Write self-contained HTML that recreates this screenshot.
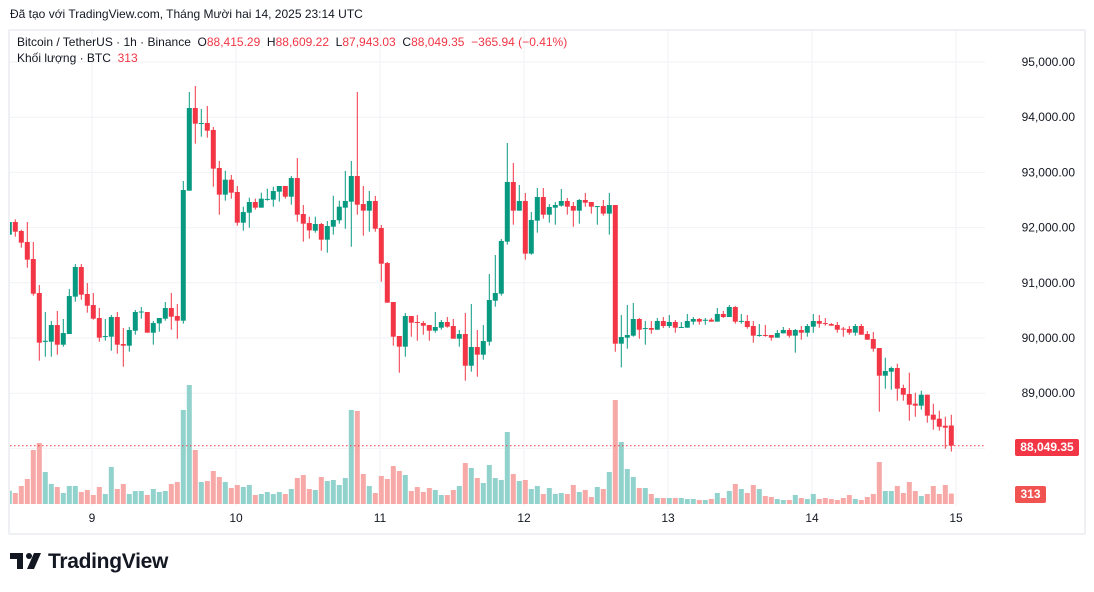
<!DOCTYPE html>
<html><head><meta charset="utf-8">
<style>
body{margin:0;width:1094px;height:592px;background:#fff;font-family:"Liberation Sans","DejaVu Sans",sans-serif;overflow:hidden;position:relative}
.t{position:absolute;white-space:nowrap}
</style></head><body>
<div class="t" style="left:10px;top:7px;font-size:12px;color:#131722">Đã tạo với TradingView.com, Tháng Mười hai 14, 2025 23:14 UTC</div>
<div style="position:absolute;left:8px;top:29px;width:1074px;height:502px;border:2px solid #eef0f4;border-radius:2px"></div>
<svg id="chart" width="1094" height="592" style="position:absolute;left:0;top:0"></svg>
<div class="t" style="left:17px;top:35px;font-size:12px;color:#131722">Bitcoin / TetherUS · 1h · Binance&nbsp; O<span style="color:#f23645">88,415.29</span>&nbsp; H<span style="color:#f23645">88,609.22</span>&nbsp; L<span style="color:#f23645">87,943.03</span>&nbsp; C<span style="color:#f23645">88,049.35</span>&nbsp; <span style="color:#f23645">−365.94 (−0.41%)</span></div>
<div class="t" style="left:17px;top:51px;font-size:12px;color:#131722">Khối lượng · BTC&nbsp; <span style="color:#f23645">313</span></div>
<div class="t" style="left:1015px;top:439px;width:64px;height:17px;background:#f23645;color:#fff;font-size:12px;font-weight:bold;line-height:17px;text-align:center;border-radius:2px">88,049.35</div>
<div class="t" style="left:1015px;top:486px;width:31px;height:17px;background:#f05350;color:#fff;font-size:12px;font-weight:bold;line-height:17px;text-align:center;border-radius:2px">313</div>
<div style="position:absolute;left:10px;top:550px;height:24px">
<svg width="36" height="24" style="position:absolute;left:0;top:0"><path d="M0 3h13v16H7V9H0z" fill="#131722"/><circle cx="19" cy="6" r="3" fill="#131722"/><path d="M24 3h7l-7 16h-7z" fill="#131722"/></svg>
<span class="t" style="left:38px;top:0;font-size:21px;font-weight:bold;color:#131722;letter-spacing:-0.3px">TradingView</span>
</div>
<script>
const opens=[91872,92101,91938,91739,91431,90815,89930,89933,90235,89879,90072,90749,91286,90797,90597,90362,90020,90024,90380,89891,89861,90132,90465,90471,90096,90265,90350,90543,90398,90314,92669,94167,93880,93895,93768,93080,92597,92868,92645,92089,92270,92464,92361,92510,92506,92651,92754,92560,92898,92246,92083,91944,92065,91781,92017,92132,92361,92470,92935,92427,92307,92482,91993,91358,90652,90036,89843,90398,90290,90271,90235,90132,90187,90290,90217,89987,90072,89498,89837,89698,89933,90676,90803,91745,92826,92307,92482,91528,92126,92554,92234,92361,92397,92482,92391,92307,92500,92464,92380,92391,92253,92409,89897,90006,90042,90344,90170,90181,90150,90308,90217,90290,90190,90187,90296,90344,90320,90332,90296,90435,90380,90561,90300,90308,90217,90045,90055,90054,90006,90084,90145,90042,90145,90096,90205,90308,90270,90253,90235,90170,90163,90096,90217,90072,89981,89818,89317,89390,89456,89094,88985,88810,88774,88973,88611,88538,88411,88415];
const highs=[92101,92150,91962,92101,91739,90960,90471,90308,90489,90344,90887,91340,91340,90996,90815,90543,90344,90416,90471,90181,90199,90507,90561,90471,90308,90362,90652,90815,90615,92844,94457,94565,94149,94203,93822,93206,93031,92953,92754,92379,92542,92524,92633,92705,92741,92754,92754,92935,93261,92409,92198,92198,92083,92120,92578,92488,93025,93206,94457,92754,92663,92572,92047,91377,90652,90036,90453,90398,90416,90308,90235,90471,90326,90380,90344,90145,90453,90616,90145,90235,91159,91503,91793,93533,93170,92772,92627,92283,92717,92717,92427,92464,92699,92536,92464,92518,92627,92464,92390,92500,92627,92409,90416,90597,90634,90362,90308,90308,90362,90380,90416,90326,90290,90435,90380,90362,90362,90362,90543,90489,90597,90579,90435,90416,90308,90253,90235,90054,90145,90199,90181,90163,90217,90253,90435,90416,90362,90271,90290,90199,90217,90253,90253,90126,90108,89818,89643,89480,89535,89154,89372,89009,89045,88973,88810,88683,88574,88609];
const lows=[91872,91835,91636,91274,90767,89589,89661,89661,89698,89843,90072,90658,90694,90459,90332,89933,89951,89770,89716,89480,89752,90060,90350,90096,89879,90114,90314,90150,89987,90260,92669,93521,93647,93629,92741,92234,92488,92524,92035,91944,92000,92325,92361,92488,92379,92470,92524,92415,92107,91745,91799,91908,91582,91546,91872,92071,91980,91654,92234,91854,91926,91926,91020,90640,89861,89371,89661,90024,89951,90060,89951,90096,90150,90187,89987,89843,89227,89390,89299,89607,89861,90567,90767,91691,92053,92307,91419,91510,91908,92162,92089,92053,92379,92234,92017,92071,92379,92253,92053,92216,91872,89752,89468,89806,90024,89987,89879,90078,90150,90181,90181,90096,90187,90187,90241,90241,90241,90296,90296,90362,90380,90260,90260,90169,89915,90024,90024,89951,90006,90084,90006,89734,89969,90024,90096,90187,90223,90223,90096,90024,90060,90042,90060,89969,89752,88665,89082,89064,88864,88864,88502,88574,88701,88466,88339,88321,87995,87943];
const closes=[92101,91926,91727,91419,90803,89915,89950,90235,89879,90090,90760,91286,90785,90585,90350,90006,90035,90380,89879,89861,90145,90471,90480,90096,90271,90362,90543,90386,90314,92681,94167,93883,93895,93756,93068,92597,92868,92633,92089,92282,92464,92361,92524,92520,92663,92754,92560,92898,92234,92071,91950,92065,91781,92029,92138,92379,92482,92935,92415,92307,92482,91980,91346,90640,90024,89843,90398,90277,90280,90223,90132,90199,90290,90205,89987,90072,89498,89837,89698,89945,90688,90815,91757,92826,92307,92482,91528,92138,92554,92234,92373,92409,92482,92379,92307,92500,92451,92379,92390,92253,92409,89897,90018,90054,90344,90150,90180,90150,90308,90217,90290,90187,90200,90308,90344,90296,90330,90296,90435,90380,90561,90296,90310,90199,90042,90055,90045,90006,90090,90145,90042,90145,90096,90217,90308,90259,90260,90223,90150,90160,90096,90217,90060,89969,89806,89317,89402,89456,89082,88973,88792,88774,88973,88593,88520,88393,88375,88049];
const volumes=[400,330,540,750,1620,1830,960,600,510,330,540,540,360,420,270,510,300,1110,450,600,300,390,390,270,450,360,390,600,660,2820,3570,1620,660,690,990,810,660,480,570,510,570,270,300,360,300,360,300,450,780,870,450,420,810,690,720,570,780,2820,2790,900,540,330,840,750,1140,990,870,390,510,360,480,420,270,270,420,540,1230,1080,780,630,1170,780,720,2160,900,690,720,450,540,300,480,300,330,300,570,360,420,210,510,450,960,3120,1860,1050,810,480,480,300,180,180,180,180,180,150,150,120,120,150,330,180,390,600,450,330,570,450,240,210,150,120,120,270,180,150,300,150,180,150,120,180,270,150,120,210,300,1260,390,390,540,330,660,390,240,300,540,300,570,313];
const priceTicks=[95000,94000,93000,92000,91000,90000,89000,88000];
const dayLabels=["9","10","11","12","13","14","15"];
const firstIndex=-1;

const svg=document.getElementById('chart');
const NS='http://www.w3.org/2000/svg';
const yOf=p=>62+(95000-p)*0.0552;
const xOf=k=>15.3+6*k;
const volBase=504;
const volH=v=>v/30;
function mk(tag,attrs){const e=document.createElementNS(NS,tag);for(const a in attrs)e.setAttribute(a,attrs[a]);svg.appendChild(e);return e;}

const clip=document.createElementNS(NS,'clipPath');clip.setAttribute('id','plotclip');
const cr=document.createElementNS(NS,'rect');cr.setAttribute('x',10);cr.setAttribute('y',31);cr.setAttribute('width',975);cr.setAttribute('height',475);clip.appendChild(cr);svg.appendChild(clip);

priceTicks.forEach(p=>{
  const g=mk('line',{x1:10,x2:985,y1:yOf(p),y2:yOf(p),stroke:'#f0f2f5','stroke-width':1});
  
  
  const t=mk('text',{x:1075,y:yOf(p)+4,'text-anchor':'end','font-size':12,fill:'#131722','font-family':'Liberation Sans, sans-serif'});
  t.textContent=p.toLocaleString('en-US',{minimumFractionDigits:2});
  
  
});
dayLabels.forEach((d,i)=>{
  const x=xOf(13+24*i)-1.3;
  const g=mk('line',{x1:x,x2:x,y1:31,y2:506,stroke:'#f0f2f5','stroke-width':1});
  
  
  const t=mk('text',{x:x,y:522,'text-anchor':'middle','font-size':12,fill:'#131722','font-family':'Liberation Sans, sans-serif'});
  t.textContent=d;
  
  
});

const grp=document.createElementNS(NS,'g');grp.setAttribute('clip-path','url(#plotclip)');svg.appendChild(grp);


function add(tag,attrs){const e=document.createElementNS(NS,tag);for(const a in attrs)e.setAttribute(a,attrs[a]);grp.appendChild(e);return e;}

volumes.forEach((v,i)=>{
  const k=i+firstIndex;const up=closes[i]>=opens[i];
  const h=volH(v);
  const r=add('rect',{x:xOf(k)-2.5,y:volBase-h,width:5,height:h,fill:up?'#92d2cc':'#f7a9a7'});
  
  
});
const dl=add('line',{x1:10,x2:985,y1:yOf(closes[closes.length-1]),y2:yOf(closes[closes.length-1]),stroke:'#f23645','stroke-width':1,'stroke-dasharray':'1.5 2.5'});



opens.forEach((o,i)=>{
  const k=i+firstIndex;const c=closes[i];const up=c>=o;const col=up?'#089981':'#f23645';
  const x=xOf(k);
  const w=add('line',{x1:x,x2:x,y1:yOf(highs[i]),y2:yOf(lows[i]),stroke:col,'stroke-width':1});
  
  
  const top=yOf(Math.max(o,c)),bot=yOf(Math.min(o,c));
  const b=add('rect',{x:x-2.5,y:top,width:5,height:Math.max(1,bot-top),fill:col});
  
  
});
</script>
</body></html>
